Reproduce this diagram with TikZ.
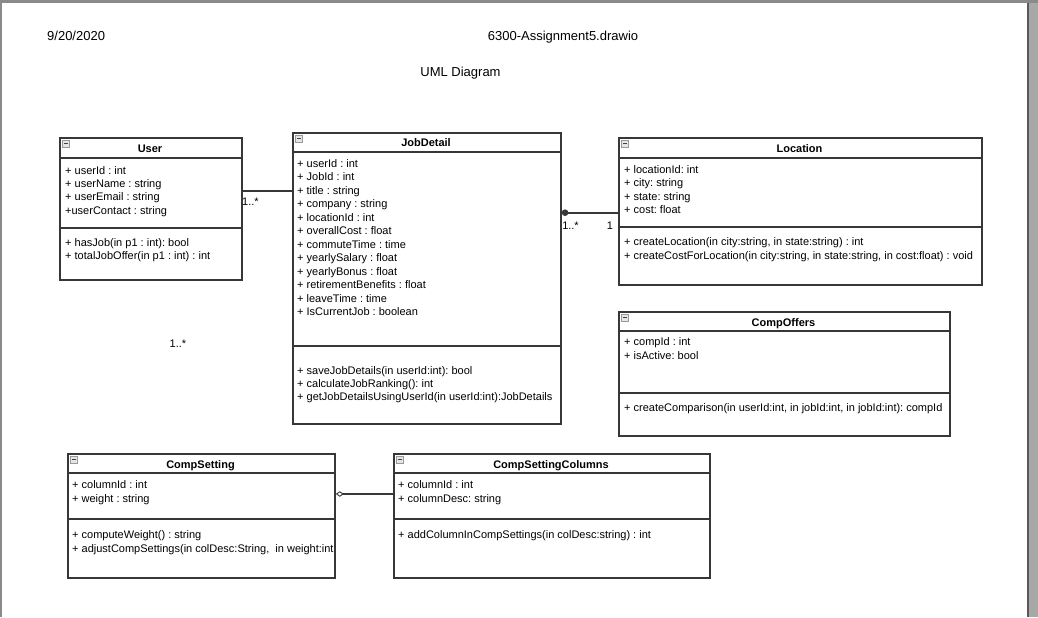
\documentclass[tikz,border=0pt]{standalone}
\usepackage{fontspec}
\setmainfont{Liberation Sans}
\usepackage{tikz}
\usetikzlibrary{calc}
\usetikzlibrary{positioning}
\usetikzlibrary{arrows.meta}
\frenchspacing

\definecolor{pagegray}{RGB}{168,168,168}
\definecolor{edgegray}{RGB}{138,138,138}
\definecolor{boxline}{RGB}{55,55,55}

\begin{document}
\begin{tikzpicture}[x=1pt, y=-1pt, >=latex,
  umlbox/.style={draw=boxline, line width=1.8pt, anchor=north west, inner sep=0pt},
  attr/.style={anchor=base west, inner sep=0pt, font=\fontsize{11}{13}\selectfont},
  ttl/.style={anchor=base, inner sep=0pt, font=\fontsize{11}{13}\selectfont\bfseries},
  mult/.style={anchor=base, inner sep=0pt, font=\fontsize{11}{13}\selectfont},
  hdr/.style={anchor=base, inner sep=0pt, font=\fontsize{13}{15}\selectfont},
  assoc/.style={draw=boxline, line width=1.6pt}]
\fill[pagegray] (0,0) rectangle (1038,617);
\fill[edgegray] (0,0) rectangle (1038,3);
\fill[edgegray] (0,0) rectangle (2,617);
\fill[white] (2,3) rectangle (1027,617);
\draw[black!65, line width=1.6pt] (1028,3) -- (1028,617);
\useasboundingbox (0,0) rectangle (1038,617);

\node[hdr, anchor=base west] at (47,41) (date) {9/20/2020};
\node[hdr] at (563,41) (file) {6300-Assignment5.drawio};
\node[hdr] at (460.5,77) (title) {UML Diagram};

\node[umlbox, minimum width=182pt, minimum height=142pt] at (59,137) (user) {};
\node[umlbox, minimum width=268pt, minimum height=291pt] at (292,132) (job) {};
\node[umlbox, minimum width=363pt, minimum height=147pt] at (618,137) (loc) {};
\node[umlbox, minimum width=331pt, minimum height=124pt] at (618,311) (offers) {};
\node[umlbox, minimum width=267pt, minimum height=124pt] at (67,453) (cset) {};
\node[umlbox, minimum width=316pt, minimum height=124pt] at (393,453) (ccols) {};

\foreach \c/\h/\s in {user/21/91, job/20/214, loc/21/90, offers/20/82, cset/20/66, ccols/20/66} {
  \draw[boxline, line width=1.8pt] ($(\c.north west)+(0,\h)$) -- ($(\c.north east)+(0,\h)$);
  \draw[boxline, line width=1.8pt] ($(\c.north west)+(0,\s)$) -- ($(\c.north east)+(0,\s)$);
  \draw[gray!80, fill=gray!20, line width=0.6pt] ($(\c.north west)+(3.5,3.5)$) rectangle +(6.5,6.5);
  \draw[gray!50!black, line width=0.7pt] ($(\c.north west)+(5,6.75)$) -- +(3.5,0);
}

\node[ttl] at (150,153) (user-t) {User};
\node[ttl] at (426,146.5) (job-t) {JobDetail};
\node[ttl] at (799.5,153) (loc-t) {Location};
\node[ttl] at (783.5,326.6) (offers-t) {CompOffers};
\node[ttl] at (200.5,468) (cset-t) {CompSetting};
\node[ttl] at (551,468) (ccols-t) {CompSettingColumns};

\foreach \t [count=\i from 0] in {+ userId : int, + userName : string, + userEmail : string, +userContact : string}
  \node[attr] at (65,174+13.4*\i) (user-a\i) {\t};
\foreach \t [count=\i from 0] in {+ hasJob(in p1 : int): bool, + totalJobOffer(in p1 : int) : int}
  \node[attr] at (65,246.5+12.5*\i) (user-m\i) {\t};

\foreach \t [count=\i from 0] in {+ userId : int, + JobId : int, + title : string, + company : string,
    + locationId : int, + overallCost : float, + commuteTime : time, + yearlySalary : float,
    + yearlyBonus : float, + retirementBenefits : float, + leaveTime : time, + IsCurrentJob : boolean}
  \node[attr] at (297,167.2+13.49*\i) (job-a\i) {\t};
\foreach \t [count=\i from 0] in {+ saveJobDetails(in userId:int): bool, + calculateJobRanking(): int,
    + getJobDetailsUsingUserId(in userId:int):JobDetails}
  \node[attr] at (297,374+13*\i) (job-m\i) {\t};

\foreach \t [count=\i from 0] in {+ locationId: int, + city: string, + state: string, + cost: float}
  \node[attr] at (624,173+13.5*\i) (loc-a\i) {\t};
\foreach \t [count=\i from 0] in {{+ createLocation(in city:string, in state:string) : int},
    {+ createCostForLocation(in city:string, in state:string, in cost:float) : void}}
  \node[attr] at (624,245.6+13.4*\i) (loc-m\i) {\t};

\foreach \t [count=\i from 0] in {+ compId : int, + isActive: bool}
  \node[attr] at (624,345.7+14*\i) (offers-a\i) {\t};
\node[attr] at (624,411.2) (offers-m0) {+ createComparison(in userId:int, in jobId:int, in jobId:int): compId};

\foreach \t [count=\i from 0] in {+ columnId : int, + weight : string}
  \node[attr] at (72,488+14*\i) (cset-a\i) {\t};
\begin{scope}
\clip (cset.north west) rectangle (cset.south east);
\node[attr] at (72,552) (cset-m1) {+ adjustCompSettings(in colDesc:String,~ in weight:int};
\node[attr] at (72,538) (cset-m0) {+ computeWeight() : string};
\end{scope}

\foreach \t [count=\i from 0] in {+ columnId : int, + columnDesc: string}
  \node[attr] at (398,488+14*\i) (ccols-a\i) {\t};
\node[attr] at (398,538) (ccols-m0) {+ addColumnInCompSettings(in colDesc:string) : int};

\path (user.north east) ++(0,53.7) coordinate (uj);
\draw[assoc] (uj) -- (uj -| job.west);
\path (job.north east) ++(0,80.7) coordinate (jl);
\draw[assoc, {Circle[length=6.5pt]}-] (jl) -- (jl -| loc.west);
\path (cset.north east) ++(0,41) coordinate (cc);
\draw[assoc, {Diamond[open, length=8pt, width=5.5pt, line width=0.9pt]}-] (cc) -- (cc -| ccols.west);

\node[mult] at (250.5,205) (uj-m) {1..*};
\node[mult] at (570.5,229.5) (jl-m1) {1..*};
\node[mult] at (610,229.5) (jl-m2) {1};
\node[mult] at (178,347) (free-m) {1..*};
\end{tikzpicture}
\end{document}
